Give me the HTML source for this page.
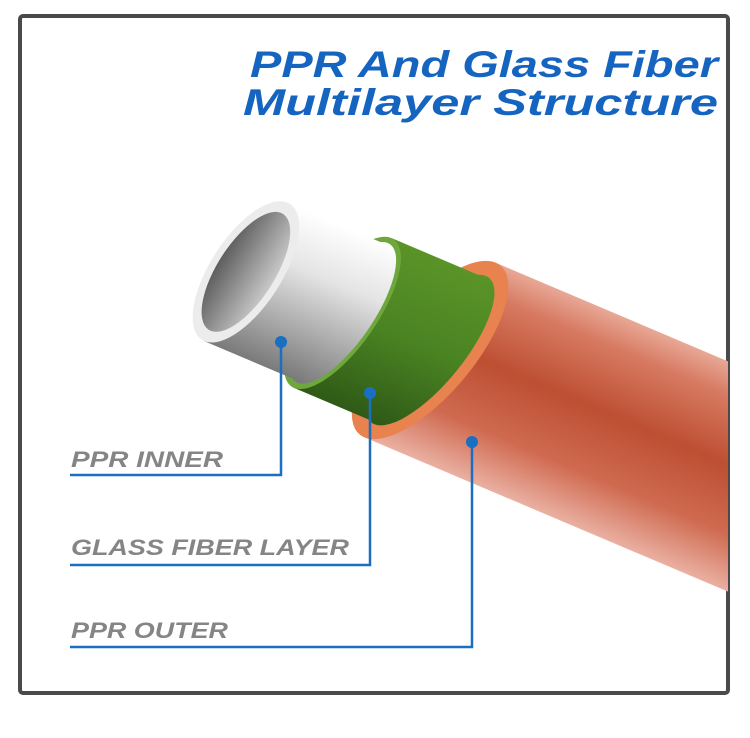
<!DOCTYPE html>
<html><head><meta charset="utf-8"><style>
html,body{margin:0;padding:0;background:#fff;width:750px;height:738px;overflow:hidden}
svg{display:block}
</style></head><body>
<svg width="750" height="738" viewBox="0 0 750 738" xmlns="http://www.w3.org/2000/svg">
<defs>
<clipPath id="c"><rect x="20" y="16" width="708" height="677"/></clipPath>
<linearGradient id="og" x1="0" y1="0" x2="0" y2="1">
<stop offset="0" stop-color="#e8a896"/><stop offset="0.15" stop-color="#d77a62"/>
<stop offset="0.45" stop-color="#bd4f32"/><stop offset="0.75" stop-color="#cf6a50"/>
<stop offset="1" stop-color="#eab0a2"/></linearGradient>
<linearGradient id="gg" x1="0" y1="0" x2="0" y2="1">
<stop offset="0" stop-color="#5a9428"/><stop offset="0.5" stop-color="#4a8322"/>
<stop offset="1" stop-color="#2f5a17"/></linearGradient>
<linearGradient id="wg" x1="0" y1="0" x2="0" y2="1">
<stop offset="0" stop-color="#ffffff"/><stop offset="0.35" stop-color="#e4e4e4"/>
<stop offset="1" stop-color="#7a7a7a"/></linearGradient>
<linearGradient id="hg" x1="0" y1="0" x2="1" y2="0">
<stop offset="0" stop-color="#5e5e5e"/><stop offset="1" stop-color="#c8c8c8"/></linearGradient>
</defs>
<rect x="20" y="16" width="708" height="677" rx="3" fill="#fff" stroke="#4a4a4a" stroke-width="4"/>
<g clip-path="url(#c)">
<g transform="translate(430,350) rotate(23)">
<polygon points="26,-106 520,-106 520,106 -26,106" fill="url(#og)"/>
<ellipse cx="0" cy="0" rx="46" ry="106" transform="skewX(-14)" fill="#e8824f"/>
<ellipse cx="0" cy="0" rx="35" ry="90" transform="skewX(-14)" fill="url(#gg)"/>
<polygon points="-79,-88 15,-88 -15,88 -111,88" fill="url(#gg)"/>
<ellipse cx="0" cy="0" rx="35" ry="88" transform="translate(-95,0) skewX(-10)" fill="#6ea83c"/>
<ellipse cx="0" cy="0" rx="31" ry="82" transform="translate(-95,0) skewX(-10)" fill="url(#wg)"/>
<polygon points="-189,-80 -84,-80 -106,80 -211,80" fill="url(#wg)"/>
<ellipse cx="0" cy="0" rx="36" ry="80" transform="translate(-200,0) skewX(-8)" fill="#ececec"/>
<ellipse cx="0" cy="0" rx="29" ry="68" transform="translate(-200,0) skewX(-8)" fill="url(#hg)"/>
</g>
</g>
<g font-family="Liberation Sans, sans-serif" font-weight="bold" font-style="italic" fill="#1565c0">
<text x="250" y="77" font-size="37" textLength="468" lengthAdjust="spacingAndGlyphs">PPR And Glass Fiber</text>
<text x="243" y="115" font-size="37" textLength="475" lengthAdjust="spacingAndGlyphs">Multilayer Structure</text>
</g>
<g font-family="Liberation Sans, sans-serif" font-weight="bold" font-style="italic" fill="#858585" font-size="22">
<text x="71" y="467" textLength="152" lengthAdjust="spacingAndGlyphs">PPR INNER</text>
<text x="71" y="555" textLength="278" lengthAdjust="spacingAndGlyphs">GLASS FIBER LAYER</text>
<text x="71" y="638" textLength="157" lengthAdjust="spacingAndGlyphs">PPR OUTER</text>
</g>
<g fill="none" stroke="#1a6fc0" stroke-width="2.5">
<polyline points="70,475 281,475 281,342"/>
<polyline points="70,565 370,565 370,393"/>
<polyline points="70,647 472,647 472,442"/>
</g>
<g fill="#1a6fc0">
<circle cx="281" cy="342" r="6"/>
<circle cx="370" cy="393" r="6"/>
<circle cx="472" cy="442" r="6"/>
</g>
</svg>
</body></html>
